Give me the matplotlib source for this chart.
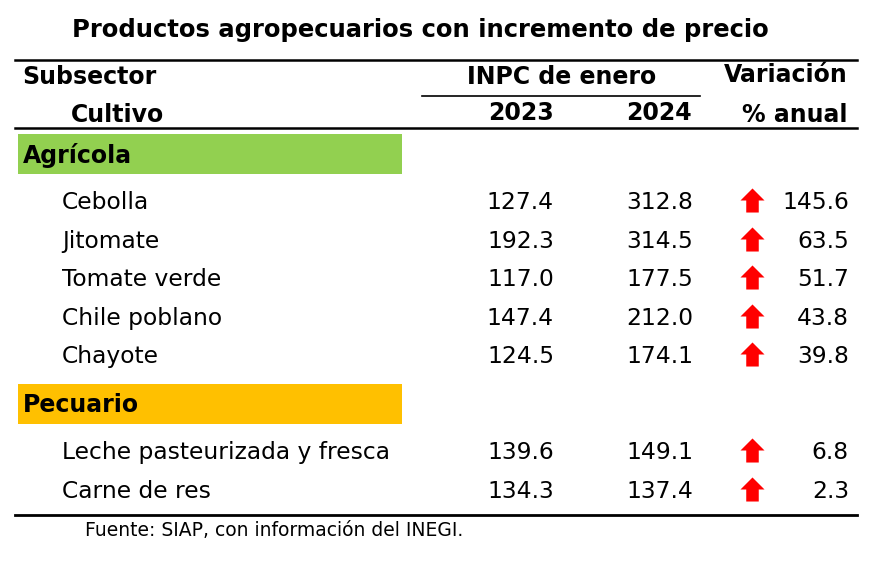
import matplotlib
matplotlib.use("Agg")
import matplotlib.pyplot as plt
from matplotlib.path import Path
from matplotlib.patches import Rectangle

# ---- data ----
title = "Productos agropecuarios con incremento de precio"
sectors = ["Agrícola", "Pecuario"]
sector_colors = ["#92D050", "#FFC000"]
agricola_items = ["Cebolla", "Jitomate", "Tomate verde", "Chile poblano", "Chayote"]
agricola_2023 = [127.4, 192.3, 117.0, 147.4, 124.5]
agricola_2024 = [312.8, 314.5, 177.5, 212.0, 174.1]
agricola_var = [145.6, 63.5, 51.7, 43.8, 39.8]
pecuario_items = ["Leche pasteurizada y fresca", "Carne de res"]
pecuario_2023 = [139.6, 134.3]
pecuario_2024 = [149.1, 137.4]
pecuario_var = [6.8, 2.3]
source = "Fuente: SIAP, con información del INEGI."

FONT = ["DejaVu Sans"]
plt.rcParams['font.family'] = FONT

W, H = 879, 562
fig = plt.figure(figsize=(W / 100, H / 100), dpi=100)
ax = fig.add_axes([0, 0, 1, 1])
ax.set_xlim(0, W)
ax.set_ylim(H, 0)
ax.axis("off")

body = 16.8
hdr = 17
VA = "center_baseline"

# title
ax.text(420, 28, title, ha="center", va=VA, fontsize=17.5, fontweight="bold")

# rules
ax.plot([15, 857], [60, 60], color="black", lw=1.8)
ax.plot([422, 700], [95.5, 95.5], color="black", lw=1.2)
ax.plot([15, 857], [128, 128], color="black", lw=1.8)
ax.plot([15, 857], [515, 515], color="black", lw=2.0)

# header
ax.text(22, 75, "Subsector", ha="left", va=VA, fontsize=hdr, fontweight="bold")
ax.text(562, 75, "INPC de enero", ha="center", va=VA, fontsize=hdr, fontweight="bold")
ax.text(848, 72, "Variación", ha="right", va=VA, fontsize=hdr, fontweight="bold")
ax.text(71, 113, "Cultivo", ha="left", va=VA, fontsize=hdr, fontweight="bold")
ax.text(554, 110, "2023", ha="right", va=VA, fontsize=hdr, fontweight="bold")
ax.text(692, 110, "2024", ha="right", va=VA, fontsize=hdr, fontweight="bold")
ax.text(848, 113, "% anual", ha="right", va=VA, fontsize=hdr, fontweight="bold")

# up-arrow marker
arrow = Path([(-0.26, -0.5), (0.26, -0.5), (0.26, 0.0), (0.5, 0.0), (0.0, 0.5),
              (-0.5, 0.0), (-0.26, 0.0), (-0.26, -0.5)],
             [Path.MOVETO] + [Path.LINETO] * 6 + [Path.CLOSEPOLY])

def block(y_band, name, color, items, v23, v24, var, y0, step):
    ax.add_patch(Rectangle((18, y_band), 384, 40, color=color, lw=0))
    ax.text(23, y_band + 19, name, ha="left", va=VA, fontsize=hdr, fontweight="bold")
    ys = [y0 + i * step for i in range(len(items))]
    for y, it, a, b, v in zip(ys, items, v23, v24, var):
        ax.text(62, y - 1, it, ha="left", va=VA, fontsize=body)
        ax.text(554, y - 1, f"{a:.1f}", ha="right", va=VA, fontsize=body)
        ax.text(693, y - 1, f"{b:.1f}", ha="right", va=VA, fontsize=body)
        ax.text(849, y - 1, f"{v:.1f}", ha="right", va=VA, fontsize=body)
    ax.scatter([752] * len(ys), [y - 1 for y in ys], marker=arrow, s=300, color="#FF0000", lw=0)

block(134, sectors[0], sector_colors[0], agricola_items, agricola_2023, agricola_2024, agricola_var, 201, 38.6)
block(384, sectors[1], sector_colors[1], pecuario_items, pecuario_2023, pecuario_2024, pecuario_var, 451, 38.5)

ax.text(85, 528, source, ha="left", va=VA, fontsize=13.5)

fig.savefig("out.png", dpi=100)
